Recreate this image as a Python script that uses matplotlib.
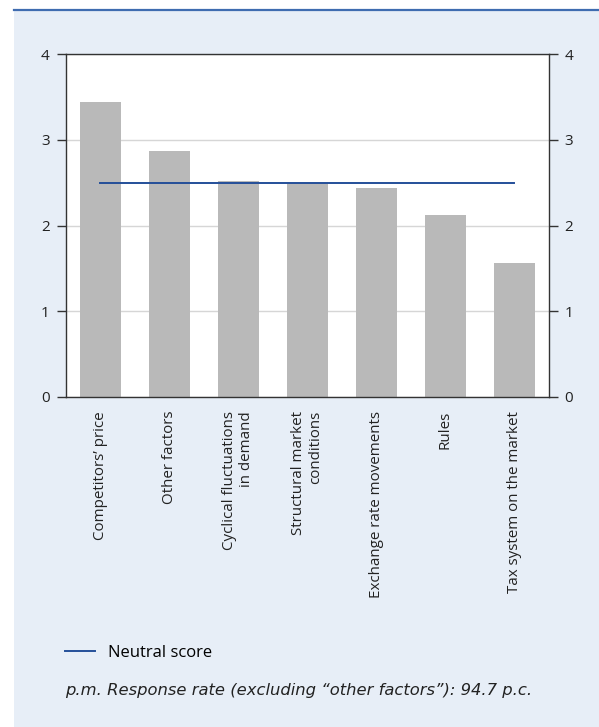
import numpy as np
import matplotlib.pyplot as plt
from matplotlib.patches import Rectangle
from matplotlib.lines import Line2D

plt.rcParams['font.family'] = ['Open Sans', 'DejaVu Sans']

# data
factors = ['Competitors\u2019 price', 'Other factors', 'Cyclical fluctuations\nin demand',
           'Structural market\nconditions', 'Exchange rate movements', 'Rules',
           'Tax system on the market']
scores = [3.44, 2.87, 2.52, 2.49, 2.44, 2.12, 1.56]
neutral = [2.5] * len(factors)
yticks = [0, 1, 2, 3, 4]

fig = plt.figure(figsize=(5.99, 7.27), dpi=100)
fig.patch.set_facecolor('white')

# light blue panel and top rule
fig.patches.append(Rectangle((14 / 599, 0), 1, 1 - 9.5 / 727, transform=fig.transFigure,
                             facecolor='#e7eef7', edgecolor='none', zorder=-1))
fig.lines.append(Line2D([14 / 599, 1], [1 - 9.5 / 727] * 2, transform=fig.transFigure,
                        color='#3f6cb0', lw=1.6, zorder=1))

ax = fig.add_axes([65.7 / 599, 1 - 397 / 727, 483 / 599, 343 / 727])
ax.set_facecolor('white')

x = np.arange(len(factors))
ax.bar(x, scores, width=0.6, color='#b9b9b9', zorder=2)
neutral_line, = ax.plot(x, neutral, color='#244f99', lw=1.4, zorder=3, label='Neutral score')

ax.set_xlim(-0.5, len(factors) - 0.5)
ax.set_ylim(0, 4)
ax.set_yticks(yticks)
ax.grid(axis='y', color='#d6d6d6', lw=1, zorder=1)
ax.set_axisbelow(True)

for s in ax.spines.values():
    s.set_color('#333333')
    s.set_linewidth(1)

ax.tick_params(axis='y', which='both', left=True, right=True, labelleft=True, labelright=True,
               length=6.5, width=1, color='#333333', labelsize=11, labelcolor='#222222', pad=5)
ax.set_xticks(x)
ax.set_xticklabels(factors, rotation=90, fontsize=10.9, color='#222222',
                   va='top', ha='center', multialignment='right')
ax.tick_params(axis='x', length=0, pad=10)

fig.legend(handles=[neutral_line], loc='center left', bbox_to_anchor=(65 / 599, 1 - 653 / 727),
           frameon=False, fontsize=12, handlelength=1.8, handletextpad=0.8,
           borderpad=0, borderaxespad=0)
fig.text(65 / 599, 1 - 691 / 727,
         'p.m. Response rate (excluding \u201cother factors\u201d): 94.7 p.c.',
         fontsize=11.8, fontstyle='italic', family='DejaVu Sans', color='#222222',
         va='center', ha='left')

fig.savefig('out.png', dpi=100)
